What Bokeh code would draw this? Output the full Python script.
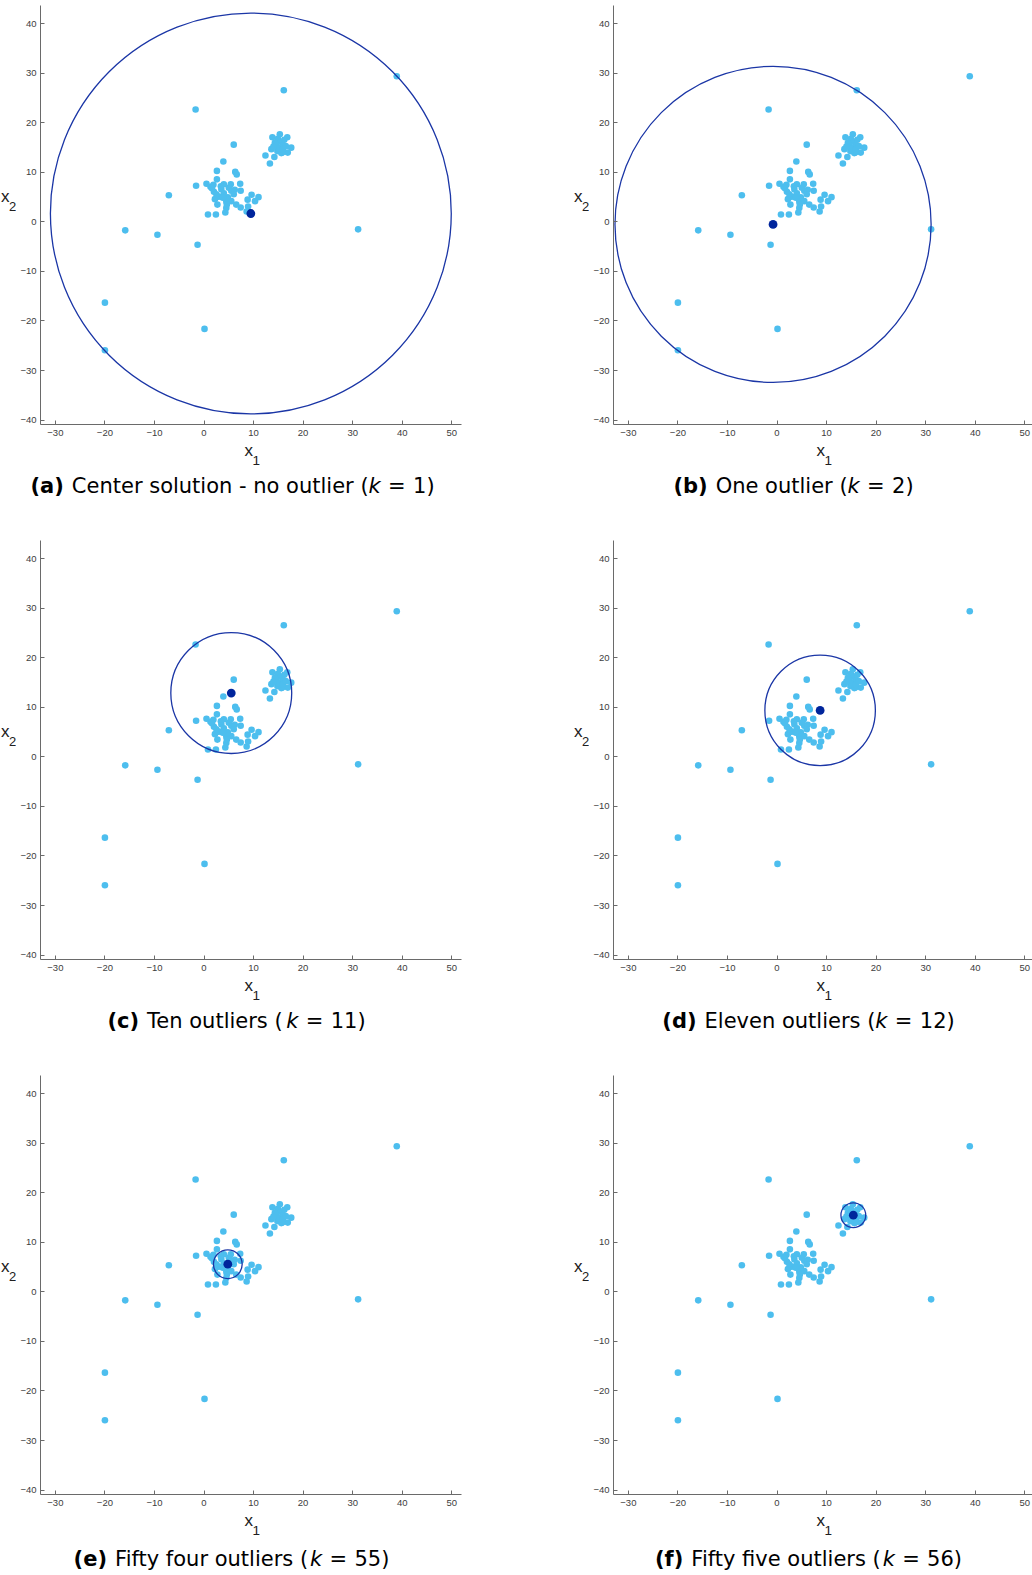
from bokeh.plotting import figure
from bokeh.layouts import column, row
from bokeh.models import Range1d, FixedTicker
from bokeh.core.properties import value
from bokeh.embed import file_html
from bokeh.resources import INLINE

# Observations (x1, x2)
x1 = [38.9, 16.1, -1.7, 6.0, 3.9, -7.1, -1.6, -15.9, -9.4, -1.3, 31.1, -20.0, 0.1, -20.0,
      2.6, 6.3, 6.6, 0.5, 1.3, 2.6, 4.0, 5.4, 7.3, 7.4, 6.2, 2.0, 3.0, 2.2, 5.5, 9.6, 11.0,
      8.8, 10.3, 2.7, 4.5, 5.5, 6.5, 7.4, 8.9, 8.6, 4.5, 4.3, 2.4, 0.8, 1.6, 3.5, 4.8, 4.0,
      3.4, 5.0, 1.9, 4.6, 3.8, 2.5, 6.0,
      13.8, 15.3, 16.8, 17.6, 16.9, 13.6, 12.4, 14.2, 13.3, 15.8, 14.9, 15.5, 14.6, 15.2,
      16.0, 14.8, 15.6, 16.2, 14.3, 15.0, 15.9, 16.5, 14.0]
x2 = [29.4, 26.6, 22.7, 15.6, 12.2, 5.4, 7.3, -1.7, -2.6, -4.6, -1.5, -16.3, -21.6, -25.9,
      10.3, 10.1, 9.6, 7.7, 7.1, 8.6, 7.6, 7.6, 7.7, 6.3, 6.5, 6.1, 5.1, 4.6, 6.3, 5.5, 5.0,
      4.5, 4.2, 3.5, 4.1, 4.2, 3.5, 2.9, 3.1, 2.1, 2.8, 1.9, 1.5, 1.5, 6.8, 6.6, 5.0, 5.8,
      7.2, 6.9, 7.5, 3.5, 4.9, 5.6, 5.6,
      17.1, 17.7, 17.1, 15.0, 14.0, 14.7, 13.4, 13.1, 11.8, 14.0, 16.8, 16.2, 15.6, 15.0,
      15.5, 14.3, 13.9, 16.6, 16.0, 14.8, 14.6, 15.3, 15.2]

# Ball found for each k: center and radius
ball_x1 = [9.45, -0.8, 5.5, 8.7, 4.8, 15.4]
ball_x2 = [1.7, -0.5, 12.9, 9.4, 5.6, 15.5]
ball_radius = [40.45, 31.9, 12.2, 11.15, 2.9, 2.5]

tags = ["(a)", "(b)", "(c)", "(d)", "(e)", "(f)"]
captions = ["Center solution - no outlier", "One outlier", "Ten outliers",
            "Eleven outliers", "Fifty four outliers", "Fifty five outliers"]
k_values = [1, 2, 11, 12, 55, 56]

x_ticks = [-30, -20, -10, 0, 10, 20, 30, 40, 50]
y_ticks = [-40, -30, -20, -10, 0, 10, 20, 30, 40]

# ---- layout constants ----
CELL_W = 516
X_START = -33.0
Y_START, Y_END = -40.9, 43.7
PX_PER_UNIT = 4.955
FRAME_H = 419
TICK_BAND = 17          # space under the frame for the x tick labels
AXIS_GAP = 24           # space left of the frame for the y tick labels
COLS = [dict(left=40, width=421, right=55), dict(left=97, width=419, right=0)]
ROWS = [dict(top=5, bottom=111), dict(top=5, bottom=111), dict(top=5, bottom=81)]
CAPTION_CENTER = [192, 180, 196, 195, 191, 195]
CAPTION_DROP = [71, 71, 74]

LIGHT = "#4DBEEE"
DARK = "#00259C"
RING = "#1B36A6"
AXIS = "#6A6A6A"
TICK_TXT = "#404040"
LABEL_TXT = "#202020"
TICK_FONT = "Liberation Sans"
CAP_FONT = "DejaVu Sans"
CAP_SIZE = 21
BASELINE_LIFT = 0.45    # em; lifts glyph text so its baseline sits where intended

# DejaVu Sans advance widths (units per em = 2048) for caption layout
REG_W = {' ': 651, '(': 799, ')': 799, '-': 739, '=': 1716, 'C': 1430, 'E': 1294,
         'F': 1178, 'O': 1612, 'T': 1251, 'a': 1255, 'e': 1260, 'f': 721, 'h': 1298,
         'i': 569, 'k': 1186, 'l': 569, 'n': 1298, 'o': 1253, 'r': 842, 's': 1067,
         't': 803, 'u': 1298, 'v': 1212, 'w': 1675, 'y': 1212}
BOLD_W = {'(': 938, ')': 938, 'a': 1382, 'b': 1466, 'c': 1214, 'd': 1466, 'e': 1389,
          'f': 891}
SPACE = 651 / 2048.0 * CAP_SIZE


def text_width(s, table):
    return sum(table.get(ch, 1303) for ch in s) / 2048.0 * CAP_SIZE


def blank(width, height):
    """A figure whose frame is the whole canvas, in pixel coordinates."""
    p = figure(width=width, height=height, frame_width=width, frame_height=height,
               min_border=0, x_range=Range1d(0, width), y_range=Range1d(0, height),
               x_axis_type=None, y_axis_type=None,
               output_backend="svg", toolbar_location=None)
    p.outline_line_color = None
    p.background_fill_color = "white"
    p.border_fill_color = "white"
    return p


def put(p, x, y, text, size, font, style="normal", color="#000000"):
    p.text(x=[x], y=[y + BASELINE_LIFT * size], text=[text], text_font=value(font),
           text_font_size=value(f"{size}px"), text_font_style=value(style),
           text_color=color, text_align="left", text_baseline="alphabetic")


def make_cell(i):
    r, c = divmod(i, 2)
    cs, rs = COLS[c], ROWS[r]
    main_h = rs["top"] + FRAME_H + TICK_BAND
    strip_w = cs["left"] - AXIS_GAP

    # --- scatter panel ---
    x_end = X_START + cs["width"] / PX_PER_UNIT
    p = figure(width=AXIS_GAP + cs["width"] + cs["right"], height=main_h,
               frame_width=cs["width"], frame_height=FRAME_H,
               min_border_left=AXIS_GAP, min_border_right=cs["right"],
               min_border_top=rs["top"], min_border_bottom=TICK_BAND,
               x_range=Range1d(X_START, x_end), y_range=Range1d(Y_START, Y_END),
               output_backend="svg", toolbar_location=None)
    p.outline_line_color = None
    p.background_fill_color = "white"
    p.border_fill_color = "white"
    p.xgrid.visible = False
    p.ygrid.visible = False

    p.xaxis.ticker = FixedTicker(ticks=x_ticks)
    p.yaxis.ticker = FixedTicker(ticks=y_ticks)
    for ax, standoff in ((p.xaxis, 5), (p.yaxis, 4)):
        ax.axis_line_color = AXIS
        ax.axis_line_width = 1
        ax.major_tick_line_color = AXIS
        ax.major_tick_in = 4
        ax.major_tick_out = 0
        ax.minor_tick_line_color = None
        ax.major_label_text_font = TICK_FONT
        ax.major_label_text_font_size = "9.5px"
        ax.major_label_text_color = TICK_TXT
        ax.major_label_standoff = standoff

    p.scatter(x=x1, y=x2, size=6.6, fill_color=LIGHT, line_color=LIGHT, line_width=0)
    p.circle(x=[ball_x1[i]], y=[ball_x2[i]], radius=[ball_radius[i]],
             fill_color=None, line_color=RING, line_width=1.3)
    p.scatter(x=[ball_x1[i]], y=[ball_x2[i]], size=8.8, fill_color=DARK,
              line_color=DARK, line_width=0)

    # --- y axis title x_2, left of the tick labels ---
    s = blank(strip_w, main_h)
    put(s, strip_w - 15.5, main_h - (rs["top"] + 194), "x", 17, TICK_FONT, color=LABEL_TXT)
    put(s, strip_w - 7.5, main_h - (rs["top"] + 202), "2", 13, TICK_FONT, color=LABEL_TXT)

    # --- x axis title x_1 and the caption ---
    cap_h = rs["bottom"] - TICK_BAND
    b = blank(CELL_W, cap_h)
    mid = cs["left"] + cs["width"] / 2.0
    put(b, mid - 6.5, cap_h - (34 - TICK_BAND), "x", 17, TICK_FONT, color=LABEL_TXT)
    put(b, mid + 1.5, cap_h - (42 - TICK_BAND), "1", 13.5, TICK_FONT, color=LABEL_TXT)

    # caption pieces: (text, width table, style, gap after)
    pieces = [(tags[i], BOLD_W, "bold", SPACE * 1.2),
              (captions[i] + " (", REG_W, "normal", 0.0),
              ("k", REG_W, "italic", SPACE * 1.1),
              ("=", REG_W, "normal", SPACE * 1.1),
              (f"{k_values[i]})", REG_W, "normal", 0.0)]
    total = sum(text_width(t, tbl) + g for t, tbl, _, g in pieces)
    cx = cs["left"] + CAPTION_CENTER[i] - total / 2.0
    base = cap_h - (CAPTION_DROP[r] - TICK_BAND)
    for t, tbl, st, g in pieces:
        put(b, cx, base, t, CAP_SIZE, CAP_FONT, style=st)
        cx += text_width(t, tbl) + g

    return column(row(s, p, spacing=0), b, spacing=0)


cells = [make_cell(i) for i in range(6)]
layout = column(row(cells[0], cells[1], spacing=0),
                row(cells[2], cells[3], spacing=0),
                row(cells[4], cells[5], spacing=0), spacing=0)

open("out.html", "w").write(file_html(layout, INLINE))
